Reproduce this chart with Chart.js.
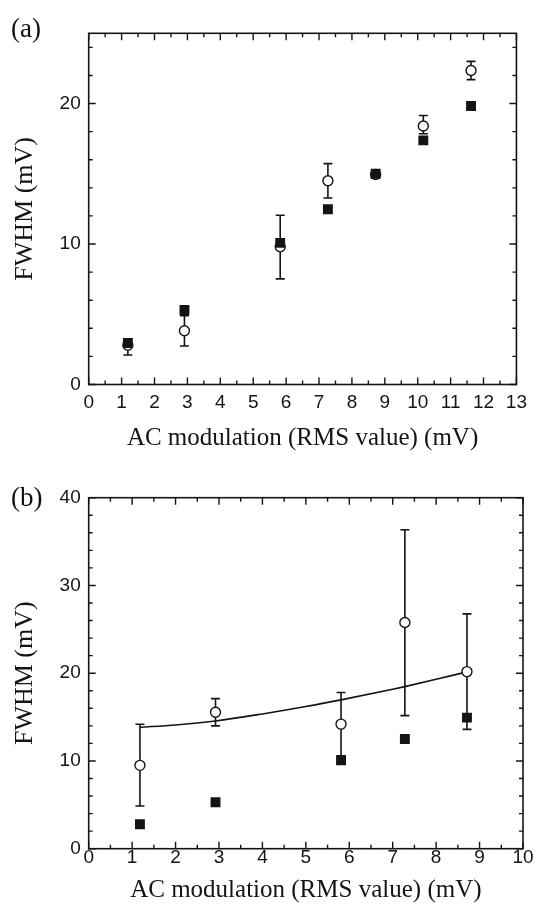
<!DOCTYPE html>
<html lang="en">
<head>
<meta charset="UTF-8">
<title>FWHM vs AC modulation</title>
<script src="https://cdn.jsdelivr.net/npm/chart.js"></script>
<style>
  body { margin: 0; background: #fff; width: 536px; height: 910px; position: relative; overflow: hidden; }
  .panel { position: absolute; left: 0; width: 536px; }
  .tag { position: absolute; left: 11px; font-family: "Liberation Serif", serif; font-size: 27px; line-height: 1; color: #111; }
</style>
</head>
<body>
<div class="panel" style="top:0;height:460px"><canvas id="chartA"></canvas></div>
<div class="panel" style="top:460px;height:450px"><canvas id="chartB"></canvas></div>
<div class="tag" style="top:15px">(a)</div>
<div class="tag" style="top:484px">(b)</div>

<script>
// panel (a)
const xA = [1.19, 2.91, 5.82, 7.27, 8.72, 10.17, 11.62];
const circA = [2.8, 3.83, 9.8, 14.5, 14.95, 18.4, 22.35];
const circALow = [2.1, 2.74, 7.52, 13.28, 14.7, 17.85, 21.7];
const circAHigh = [3.2, 4.9, 12.05, 15.72, 15.2, 19.15, 23.0];
const squareA = [2.95, 5.3, 10.08, 12.47, 15.0, 17.38, 19.82];
const xTicksA = [0, 1, 2, 3, 4, 5, 6, 7, 8, 9, 10, 11, 12, 13];
const yTicksA = [0, 10, 20];

// panel (b)
const xB = [1.18, 2.92, 5.81, 7.28, 8.71];
const circB = [9.5, 15.55, 14.2, 25.77, 20.18];
const circBLow = [4.87, 14.0, 10.6, 15.17, 13.6];
const circBHigh = [14.18, 17.1, 17.8, 36.34, 26.76];
const squareB = [2.78, 5.29, 10.08, 12.5, 14.94];
const fitX = [1.18, 2.0, 2.92, 4.0, 5.0, 5.81, 7.0, 7.28, 8.0, 8.71];
const fitY = [13.84, 14.1, 14.56, 15.36, 16.2, 16.96, 18.17, 18.47, 19.3, 20.15];
const xTicksB = [0, 1, 2, 3, 4, 5, 6, 7, 8, 9, 10];
const yTicksB = [0, 10, 20, 30, 40];

const INK = '#141414';

const pts = (xs, ys) => xs.map((x, i) => ({ x: x, y: ys[i] }));

// box with inward ticks on all four sides
const framePlugin = {
  id: 'frame',
  afterDraw(chart, args, opts) {
    const { ctx, chartArea: a, scales: { x, y } } = chart;
    ctx.save();
    ctx.strokeStyle = INK;
    ctx.lineWidth = 1.6;
    ctx.strokeRect(a.left, a.top, a.right - a.left, a.bottom - a.top);
    ctx.lineWidth = 1.4;
    ctx.beginPath();
    const nx = Math.round(x.max / opts.xMinor);
    for (let i = 0; i <= nx; i++) {
      const v = i * opts.xMinor;
      const len = opts.xTicks.some(t => Math.abs(t - v) < 1e-6) ? 7 : 4;
      const px = x.getPixelForValue(v);
      ctx.moveTo(px, a.bottom); ctx.lineTo(px, a.bottom - len);
      ctx.moveTo(px, a.top); ctx.lineTo(px, a.top + len);
    }
    const ny = Math.floor(y.max / opts.yMinor + 1e-6);
    for (let i = 0; i <= ny; i++) {
      const v = i * opts.yMinor;
      const len = opts.yTicks.some(t => Math.abs(t - v) < 1e-6) ? 7 : 4;
      const py = y.getPixelForValue(v);
      ctx.moveTo(a.left, py); ctx.lineTo(a.left + len, py);
      ctx.moveTo(a.right, py); ctx.lineTo(a.right - len, py);
    }
    ctx.stroke();
    ctx.restore();
  }
};

// vertical error bars with caps, under the markers
const errorPlugin = {
  id: 'errbars',
  beforeDatasetsDraw(chart, args, opts) {
    const { ctx, scales: { x, y } } = chart;
    ctx.save();
    ctx.strokeStyle = INK;
    ctx.lineWidth = 1.6;
    ctx.beginPath();
    opts.x.forEach((xv, i) => {
      const px = x.getPixelForValue(xv);
      const lo = y.getPixelForValue(opts.low[i]);
      const hi = y.getPixelForValue(opts.high[i]);
      ctx.moveTo(px, lo); ctx.lineTo(px, hi);
      ctx.moveTo(px - 4.5, lo); ctx.lineTo(px + 4.5, lo);
      ctx.moveTo(px - 4.5, hi); ctx.lineTo(px + 4.5, hi);
    });
    ctx.stroke();
    ctx.restore();
  }
};

function panelOptions(p) {
  return {
    responsive: true,
    maintainAspectRatio: false,
    animation: false,
    events: [],
    layout: { padding: { top: p.top, right: 13, left: 0, bottom: 0 } },
    plugins: {
      legend: { display: false },
      tooltip: { enabled: false },
      frame: { xTicks: p.xTicks, yTicks: p.yTicks, xMinor: 0.5, yMinor: 2 },
      errbars: { x: p.errX, low: p.errLow, high: p.errHigh }
    },
    scales: {
      x: {
        type: 'linear', min: 0, max: p.xMax,
        afterBuildTicks: s => { s.ticks = p.xTicks.map(v => ({ value: v })); },
        afterFit: s => { s.height = p.xHeight; },
        grid: { display: false, drawTicks: false },
        border: { display: false },
        ticks: {
          color: INK, padding: p.xPad, maxRotation: 0, autoSkip: false,
          font: { family: 'Liberation Sans', size: 19, lineHeight: 1 }
        },
        title: {
          display: true, text: 'AC modulation (RMS value) (mV)', color: INK,
          font: { family: 'Liberation Serif', size: 25 },
          padding: { top: 0, bottom: p.titlePad }
        }
      },
      y: {
        type: 'linear', min: 0, max: p.yMax,
        afterBuildTicks: s => { s.ticks = p.yTicks.map(v => ({ value: v })); },
        afterFit: s => { s.width = 88.7; },
        grid: { display: false, drawTicks: false },
        border: { display: false },
        ticks: {
          color: INK, padding: 8,
          font: { family: 'Liberation Sans', size: 19, lineHeight: 1 }
        },
        title: {
          display: true, text: 'FWHM (mV)', color: INK,
          font: { family: 'Liberation Serif', size: 26 },
          padding: { top: 10, bottom: 0 }
        }
      }
    }
  };
}

const circleStyle = {
  pointStyle: 'circle', pointRadius: 5, borderWidth: 1.4,
  borderColor: INK, backgroundColor: '#fff', showLine: false
};
const squareStyle = {
  pointStyle: 'rect', pointRadius: 7, borderWidth: 0,
  borderColor: INK, backgroundColor: INK, showLine: false
};

new Chart(document.getElementById('chartA'), {
  type: 'scatter',
  data: {
    datasets: [
      Object.assign({ label: 'open', data: pts(xA, circA), order: 1 }, circleStyle),
      Object.assign({ label: 'filled', data: pts(xA, squareA), order: 0 }, squareStyle)
    ]
  },
  options: panelOptions({
    top: 33.3, xMax: 13, yMax: 25, xTicks: xTicksA, yTicks: yTicksA,
    xHeight: 75.5, xPad: 9, titlePad: 7,
    errX: xA, errLow: circALow, errHigh: circAHigh
  }),
  plugins: [framePlugin, errorPlugin]
});

new Chart(document.getElementById('chartB'), {
  type: 'scatter',
  data: {
    datasets: [
      {
        label: 'fit', data: pts(fitX, fitY), order: 2, showLine: true,
        borderColor: INK, borderWidth: 1.6, pointRadius: 0, fill: false,
        cubicInterpolationMode: 'monotone'
      },
      Object.assign({ label: 'open', data: pts(xB, circB), order: 1 }, circleStyle),
      Object.assign({ label: 'filled', data: pts(xB, squareB), order: 0 }, squareStyle)
    ]
  },
  options: panelOptions({
    top: 37.7, xMax: 10, yMax: 40, xTicks: xTicksB, yTicks: yTicksB,
    xHeight: 61.3, xPad: 0, titlePad: 5,
    errX: xB, errLow: circBLow, errHigh: circBHigh
  }),
  plugins: [framePlugin, errorPlugin]
});
</script>
</body>
</html>
